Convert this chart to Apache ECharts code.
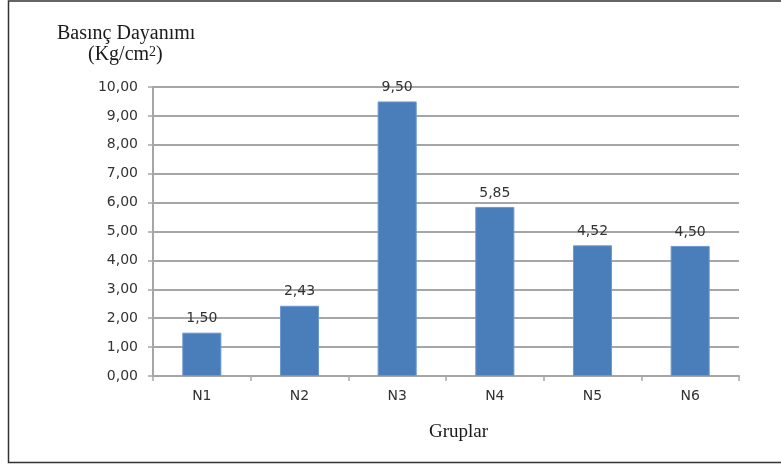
<!DOCTYPE html>
<html>
<head>
<meta charset="utf-8">
<script src="https://cdn.jsdelivr.net/npm/echarts@6/dist/echarts.min.js"></script>
<style>
  html, body { margin: 0; padding: 0; background: #fff; }
  #chart { width: 781px; height: 466px; }
</style>
</head>
<body>
<div id="chart"></div>
<script>
// Compressive strength per group
const groups = ['N1', 'N2', 'N3', 'N4', 'N5', 'N6'];
const strength = [1.50, 2.43, 9.50, 5.85, 4.52, 4.50];
const yTicks = { min: 0, max: 10, step: 1 };

const fmt = v => v.toFixed(2).replace('.', ',');
const labelColor = '#333333';
const sansFont = '"DejaVu Sans", "Open Sans", sans-serif';
const serifFont = '"Liberation Serif", "DejaVu Serif", serif';

const chart = echarts.init(document.getElementById('chart'), null, { renderer: 'canvas' });
chart.setOption({
  animation: false,
  backgroundColor: '#fff',
  graphic: [
    {
      type: 'rect',
      shape: { x: 8.5, y: 1, width: 800, height: 461.5 },
      style: { fill: 'none', stroke: '#333', lineWidth: 1.5 },
      silent: true
    },
    {
      type: 'text',
      left: 57, top: 24,
      style: { text: 'Basınç Dayanımı', font: '20px ' + serifFont, fill: '#1a1a1a' }
    },
    {
      type: 'text',
      left: 88, top: 45,
      style: {
        text: '(Kg/cm{sup|2})',
        font: '20px ' + serifFont,
        fill: '#1a1a1a',
        rich: {
          sup: { fontFamily: serifFont, fontSize: 14, fill: '#1a1a1a', verticalAlign: 'top', padding: [0, 0, 6, 0] }
        }
      }
    },
    {
      type: 'text',
      left: 429, top: 423,
      style: { text: 'Gruplar', font: '19px ' + serifFont, fill: '#1a1a1a' }
    }
  ],
  grid: { left: 153, right: 42, top: 87, bottom: 90, containLabel: false },
  xAxis: {
    type: 'category',
    data: groups,
    axisLine: { lineStyle: { color: '#a6a6a6', width: 2 } },
    axisTick: { show: true, alignWithLabel: false, length: 5, lineStyle: { color: '#a6a6a6', width: 1.5 } },
    axisLabel: { margin: 13, fontFamily: sansFont, fontSize: 14, color: labelColor }
  },
  yAxis: {
    type: 'value',
    min: yTicks.min,
    max: yTicks.max,
    interval: yTicks.step,
    axisLine: { show: true, lineStyle: { color: '#a6a6a6', width: 2 } },
    axisTick: { show: true, length: 5, lineStyle: { color: '#a6a6a6', width: 1.5 } },
    axisLabel: { margin: 15, fontFamily: sansFont, fontSize: 14, color: labelColor, formatter: fmt },
    splitLine: { show: true, lineStyle: { color: '#a6a6a6', width: 2 } }
  },
  series: [{
    type: 'bar',
    data: strength,
    barWidth: '40%',
    itemStyle: { color: '#4a7ebb', borderColor: '#6b98cf', borderWidth: 1 },
    label: {
      show: true,
      position: 'top',
      distance: 7,
      formatter: p => fmt(p.value),
      fontFamily: sansFont, fontSize: 14, color: labelColor
    }
  }]
});
</script>
</body>
</html>
